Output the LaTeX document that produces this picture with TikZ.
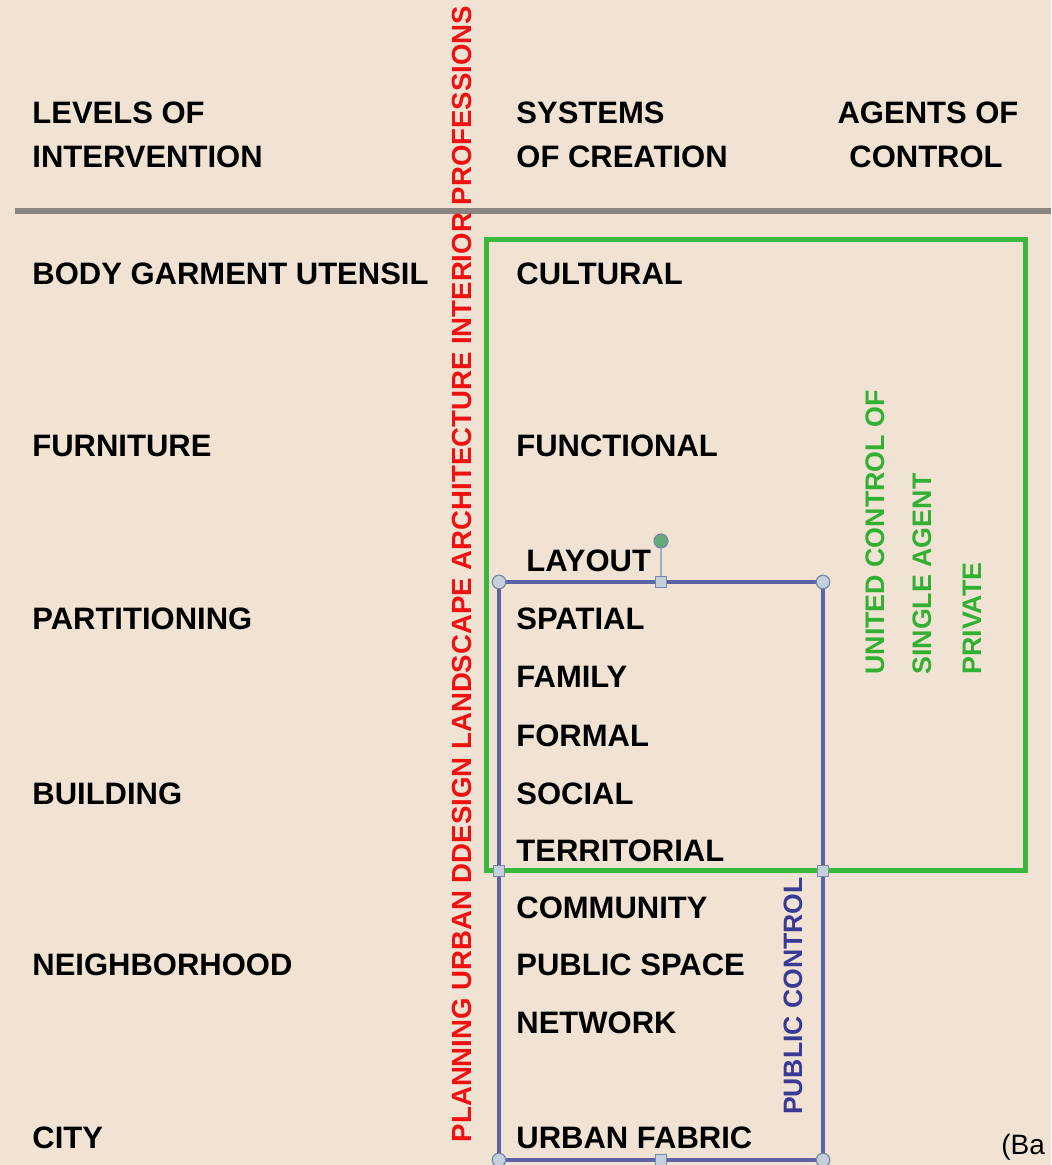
\documentclass[tikz,border=0pt]{standalone}
\usepackage{fontspec}
\setmainfont{Liberation Sans}
\definecolor{bg}{RGB}{240,227,212}
\definecolor{rulegray}{RGB}{138,133,128}
\definecolor{gbox}{RGB}{60,184,60}
\definecolor{gtext}{RGB}{50,176,50}
\definecolor{bbox}{RGB}{92,98,166}
\definecolor{btext}{RGB}{58,58,150}
\definecolor{rtext}{RGB}{240,16,16}
\definecolor{hfill}{RGB}{196,208,220}
\definecolor{hdraw}{RGB}{120,136,166}
\definecolor{rotfill}{RGB}{100,170,120}
\begin{document}
\begin{tikzpicture}[x=0.5pt,y=-0.5pt,
  lbl/.style={anchor=west, inner sep=0pt, text=black, font=\fontsize{15.5}{18}\selectfont\bfseries},
  hdr/.style={lbl},
  hdrc/.style={anchor=center, inner sep=0pt, text=black, font=\fontsize{15.5}{18}\selectfont\bfseries},
  redlbl/.style={rotate=90, anchor=center, inner sep=0pt, text=rtext, font=\fontsize{13.8}{16}\selectfont\bfseries},
  greenlbl/.style={rotate=90, anchor=west, inner sep=0pt, text=gtext, font=\fontsize{13.4}{16}\selectfont\bfseries},
  bluelbl/.style={rotate=90, anchor=center, inner sep=0pt, text=btext, font=\fontsize{13.3}{16}\selectfont\bfseries},
  greenbox/.style={draw=gbox, line width=2.5pt},
  bluebox/.style={draw=bbox, line width=2.3pt},
  hcirc/.style={circle, draw=hdraw, fill=hfill, line width=0.6pt, minimum size=6.8pt, inner sep=0pt},
  hsq/.style={rectangle, draw=hdraw, fill=hfill, line width=0.6pt, minimum size=5.5pt, inner sep=0pt},
  rothandle/.style={circle, draw=hdraw, fill=rotfill, line width=0.6pt, minimum size=7pt, inner sep=0pt},
  rotline/.style={draw=hdraw!70, line width=0.6pt}
]
\useasboundingbox (0,0) rectangle (1051,1165);
\fill[bg] (0,0) rectangle (1051,1165);

% header
\node[hdr] (h1a) at (32,113) {LEVELS OF};
\node[hdr] (h1b) at (32,157) {INTERVENTION};
\node[hdr] (h2a) at (516,113) {SYSTEMS};
\node[hdr] (h2b) at (516,157) {OF CREATION};
\node[hdrc] (h3a) at (928,113) {AGENTS OF};
\node[hdrc] (h3b) at (926,157) {CONTROL};

% rule
\draw[rulegray, line width=2.8pt] (15,211) -- (1051,211);

% red vertical professions
\node[redlbl] (prof) at (462,574) {PLANNING URBAN DDESIGN LANDSCAPE ARCHITECTURE INTERIOR PROFESSIONS};

% boxes
\draw[greenbox] (486,240) rectangle (1025,870);
\draw[bluebox] (499,582) rectangle (823,1160);

% levels
\node[lbl] (l1) at (32,274) {BODY GARMENT UTENSIL};
\node[lbl] (l2) at (32,446) {FURNITURE};
\node[lbl] (l3) at (32,619) {PARTITIONING};
\node[lbl] (l4) at (32,794) {BUILDING};
\node[lbl] (l5) at (32,965) {NEIGHBORHOOD};
\node[lbl] (l6) at (32,1138) {CITY};

% systems
\node[lbl] (s1) at (516,274) {CULTURAL};
\node[lbl] (s2) at (516,446) {FUNCTIONAL};
\node[lbl] (s3) at (526,561) {LAYOUT};
\node[lbl] (s4) at (516,619) {SPATIAL};
\node[lbl] (s5) at (516,677) {FAMILY};
\node[lbl] (s6) at (516,736) {FORMAL};
\node[lbl] (s7) at (516,794) {SOCIAL};
\node[lbl] (s8) at (516,851) {TERRITORIAL};
\node[lbl] (s9) at (516,908) {COMMUNITY};
\node[lbl] (s10) at (516,965) {PUBLIC SPACE};
\node[lbl] (s11) at (516,1023) {NETWORK};
\node[lbl] (s12) at (516,1138) {URBAN FABRIC};

% agents
\node[greenlbl] (g1) at (875,675) {UNITED CONTROL OF};
\node[greenlbl] (g2) at (922,675) {SINGLE AGENT};
\node[greenlbl] (g3) at (972,675) {PRIVATE};
\node[bluelbl] (pc) at (793,996) {PUBLIC CONTROL};

% source
\node[anchor=west, inner sep=0pt, font=\fontsize{14}{16}\selectfont] (src) at (1001,1147) {(Ba};

% selection handles
\node[hsq] (tsq) at (661,582) {};
\node[rothandle] (rot) at (661,541) {};
\draw[rotline] (rot) -- (tsq);
\node[hcirc] (c1) at (499,582) {};
\node[hcirc] (c2) at (823,582) {};
\node[hsq] (m1) at (499,871) {};
\node[hsq] (m2) at (823,871) {};
\node[hcirc] (c3) at (499,1160) {};
\node[hcirc] (c4) at (823,1160) {};
\node[hsq] (bsq) at (661,1160) {};
\end{tikzpicture}
\end{document}
